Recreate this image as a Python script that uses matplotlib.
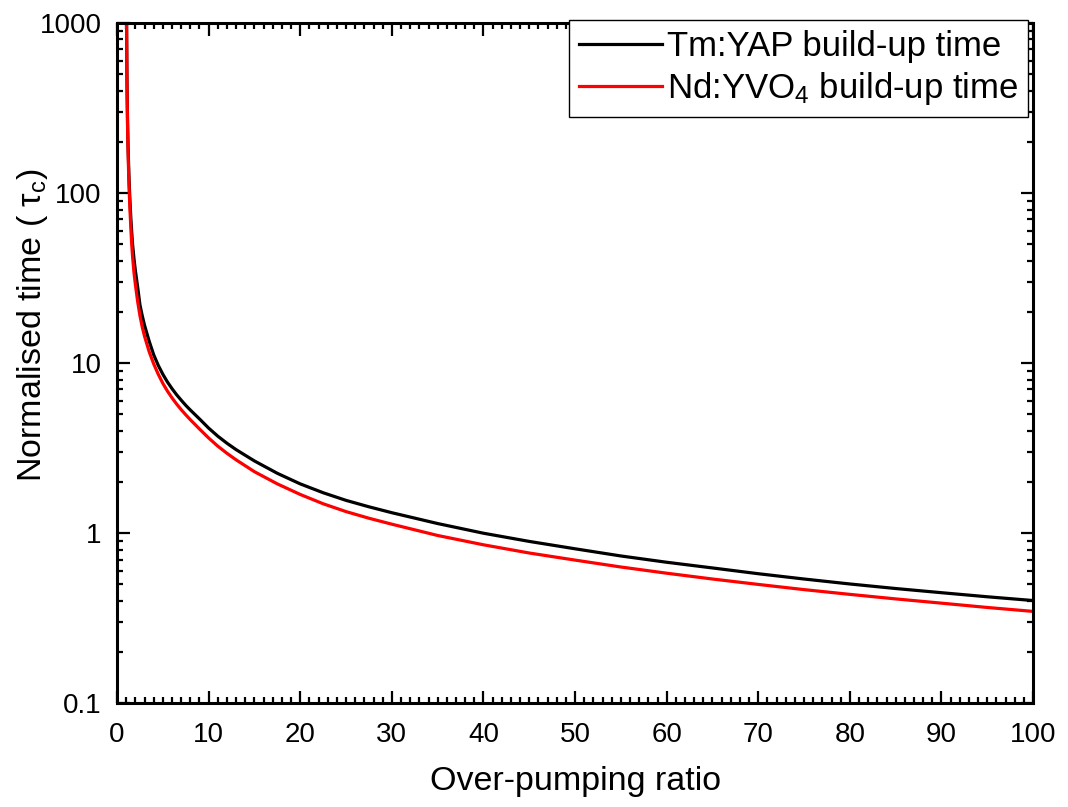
import matplotlib
matplotlib.use('Agg')
import matplotlib.pyplot as plt
from matplotlib.ticker import MultipleLocator, LogLocator, NullFormatter, FixedLocator

plt.rcParams['font.family'] = ['Liberation Sans', 'DejaVu Sans']
plt.rcParams['mathtext.fontset'] = 'custom'
plt.rcParams['mathtext.rm'] = 'Liberation Sans'
plt.rcParams['mathtext.it'] = 'Liberation Sans'

# over-pumping ratio r and build-up time in units of cavity lifetime
ratio = [1.02, 1.04, 1.07, 1.1, 1.15, 1.2, 1.3, 1.4, 1.5, 1.6, 1.7, 1.85, 2, 2.25,
         2.5, 2.75, 3, 3.5, 4, 4.5, 5, 5.5, 6, 6.5, 7, 7.5, 8, 9, 10, 11, 12, 13,
         15, 17.5, 20, 22.5, 25, 27.5, 30, 35, 40, 45, 50, 55, 60, 65, 70, 75,
         80, 85, 90, 95, 100]
tm_yap = [2000, 1000, 560, 390, 255, 190, 125, 92, 72, 59, 49.5, 41, 35, 28,
          22, 19, 16.7, 13.5, 11.2, 9.7, 8.6, 7.75, 7.08, 6.52, 6.06, 5.65, 5.3,
          4.7, 4.15, 3.72, 3.38, 3.1, 2.66, 2.25, 1.95, 1.73, 1.56, 1.43, 1.32,
          1.14, 1.0, 0.895, 0.81, 0.735, 0.675, 0.625, 0.578, 0.538, 0.503,
          0.473, 0.447, 0.423, 0.402]
nd_yvo4 = [2000, 1000, 540, 370, 240, 175, 112, 82, 63, 50, 42, 34, 29, 23,
           19, 16.3, 14.4, 11.7, 9.9, 8.6, 7.6, 6.85, 6.25, 5.75, 5.33, 4.97, 4.65,
           4.1, 3.63, 3.25, 2.95, 2.7, 2.3, 1.95, 1.69, 1.49, 1.34, 1.225, 1.13,
           0.97, 0.855, 0.765, 0.695, 0.633, 0.582, 0.538, 0.5, 0.466, 0.437,
           0.411, 0.388, 0.366, 0.347]

fig = plt.figure(figsize=(10.68, 8.07), dpi=100)
ax = fig.add_axes([0.1096, 0.1285, 0.8577, 0.843])

ax.plot(ratio, tm_yap, color='black', lw=2.3, label='Tm:YAP build-up time')
ax.plot(ratio, nd_yvo4, color='red', lw=2.3, label='Nd:YVO$_4$ build-up time')

ax.set_yscale('log')
ax.set_xlim(0, 100)
ax.set_ylim(0.1, 1000)

ax.xaxis.set_major_locator(MultipleLocator(10))
ax.xaxis.set_minor_locator(MultipleLocator(1))
ax.yaxis.set_major_locator(FixedLocator([0.1, 1, 10, 100, 1000]))
ax.yaxis.set_minor_locator(LogLocator(base=10, subs=range(2, 10)))
ax.yaxis.set_minor_formatter(NullFormatter())
ax.set_yticklabels(['0.1', '1', '10', '100', '1000'])

ax.tick_params(which='both', direction='in', top=True, right=True, width=1.6,
               labelsize=20, colors='black')
ax.tick_params(axis='x', which='both', pad=13.5)
ax.tick_params(axis='y', which='both', pad=11)
ax.tick_params(which='major', length=9)
ax.tick_params(which='minor', length=4.5)
for s in ax.spines.values():
    s.set_linewidth(2.2)

ax.set_xlabel('Over-pumping ratio', fontsize=24.5, labelpad=13)
ax.set_ylabel(r'Normalised time ( $\tau_c$)', fontsize=24.5)
ax.yaxis.set_label_coords(-0.073, 0.556)

leg = ax.legend(loc='upper right', bbox_to_anchor=(0.995, 1.004), borderaxespad=0,
                fontsize=25, frameon=True, fancybox=False, edgecolor='black',
                handlelength=2.4, handletextpad=0.15, borderpad=0.28,
                labelspacing=0.2)
leg.get_frame().set_linewidth(1.0)
leg.get_frame().set_alpha(1)

fig.savefig('out.png', dpi=100)
